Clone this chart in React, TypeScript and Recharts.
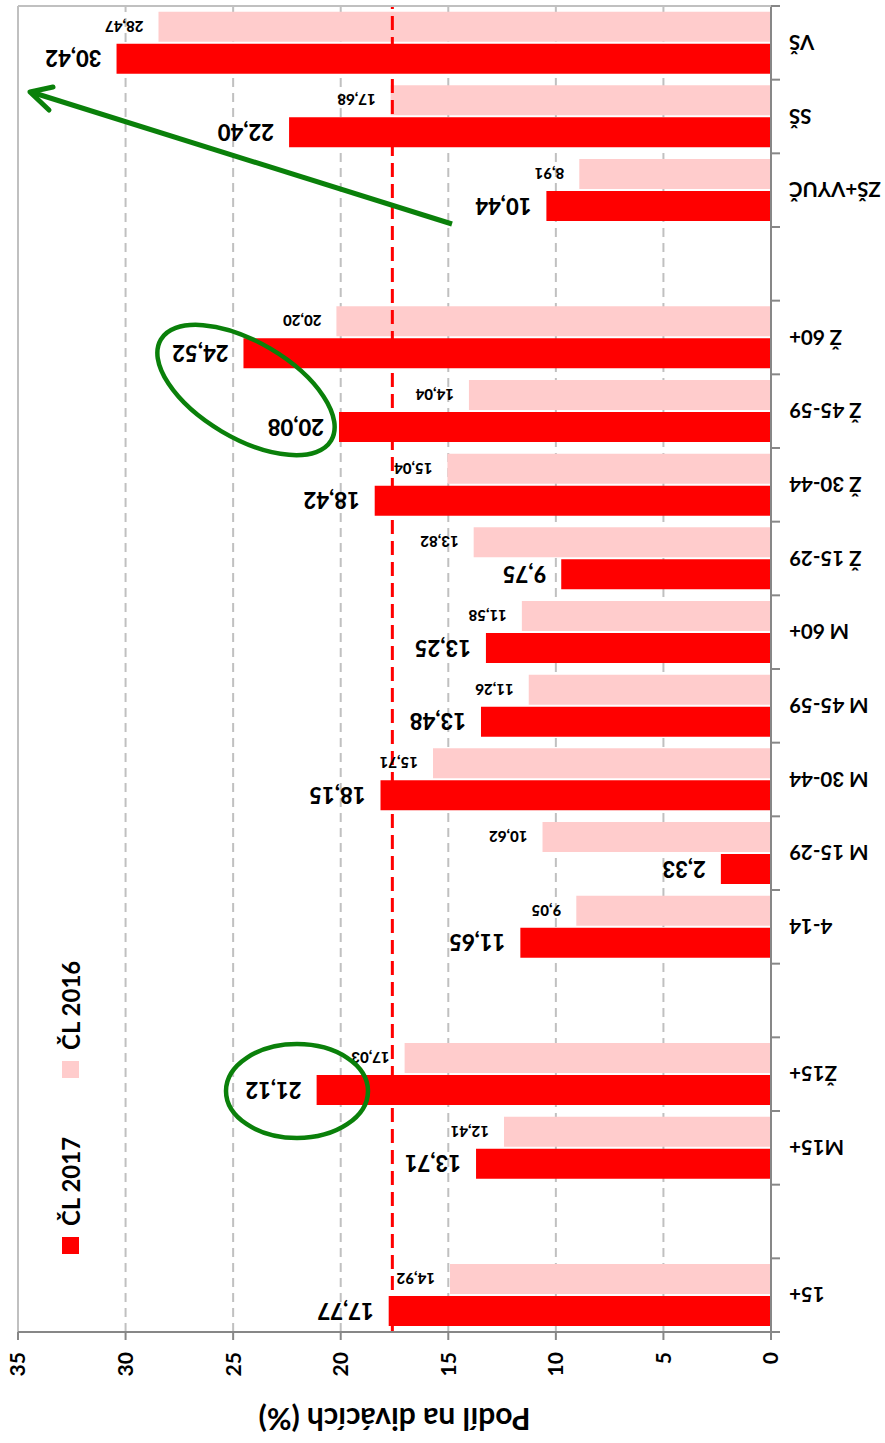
import React from 'react';
import { BarChart, Bar, XAxis, YAxis, CartesianGrid, ReferenceLine, Legend, LabelList, Label } from 'recharts';

// empty names are spacer slots between the groups
const categories = ['15+', '', 'M15+', 'Ž15+', ' ', '4-14', 'M 15-29', 'M 30-44', 'M 45-59', 'M 60+', 'Ž 15-29', 'Ž 30-44', 'Ž 45-59', 'Ž 60+', '  ', 'ZŠ+VYUČ', 'SŠ', 'VŠ'];
const cl2017 = [17.77, null, 13.71, 21.12, null, 11.65, 2.33, 18.15, 13.48, 13.25, 9.75, 18.42, 20.08, 24.52, null, 10.44, 22.4, 30.42];
const cl2016 = [14.92, null, 12.41, 17.03, null, 9.05, 10.62, 15.71, 11.26, 11.58, 13.82, 15.04, 14.04, 20.2, null, 8.91, 17.68, 28.47];
const seriesNames = ['ČL 2017', 'ČL 2016'];
const valueTicks = [0, 5, 10, 15, 20, 25, 30, 35];
const average = 17.6;

const data = categories.map((name, i) => ({ name, cl2017: cl2017[i], cl2016: cl2016[i] }));

// chart is drawn as a column chart and turned 90deg to the left
const W = 1443;
const H = 885;
const FONT = 'Lato, "Open Sans", sans-serif';
const AXIS = '#878787';
const GRID = '#c0c0c0';

const fmt = (v: number) => v.toFixed(2).replace('.', ',');

const CategoryTick = (props: any) => {
  const { x, y, payload, index } = props;
  const half = payload && payload.offset ? payload.offset : 36.8;
  const axisY = y - 18;
  return (
    <g>
      <line x1={x - half} x2={x - half} y1={axisY} y2={axisY + 9} stroke={AXIS} strokeWidth={2} />
      {index === categories.length - 1 && (
        <line x1={x + half} x2={x + half} y1={axisY} y2={axisY + 9} stroke={AXIS} strokeWidth={2} />
      )}
      <text
        x={x}
        y={y}
        transform={`rotate(-90 ${x} ${y})`}
        textAnchor="end"
        dominantBaseline="central"
        fontFamily={FONT}
        fontWeight={700}
        fontSize={20.5}
        fill="#000"
      >
        {payload.value}
      </text>
    </g>
  );
};

const barLabel = (size: number, gap: number) => (props: any) => {
  const { x, y, width, value } = props;
  if (value == null) return null;
  const cx = Number(x) + Number(width) / 2;
  const cy = Number(y) - gap;
  return (
    <text
      x={cx}
      y={cy}
      transform={`rotate(-90 ${cx} ${cy})`}
      textAnchor="start"
      dominantBaseline="central"
      fontFamily={FONT}
      fontWeight={900}
      fontSize={size}
      fill="#000"
    >
      {fmt(Number(value))}
    </text>
  );
};

const AxisTitle = (props: any) => {
  const vb = props.viewBox || { x: 0, y: 18, width: 111, height: 753 };
  const cx = vb.x + 23;
  const cy = vb.y + vb.height / 2;
  return (
    <text
      x={cx}
      y={cy}
      transform={`rotate(-90 ${cx} ${cy})`}
      textAnchor="middle"
      dominantBaseline="central"
      fontFamily={FONT}
      fontWeight={700}
      fontSize={30}
      fill="#000"
    >
      Podíl na divácích (%)
    </text>
  );
};

const LegendContent = (props: any) => {
  const items = [...(props.payload || [])].sort(
    (a: any, b: any) => seriesNames.indexOf(a.value) - seriesNames.indexOf(b.value)
  );
  return (
    <div style={{ display: 'flex', alignItems: 'center', fontFamily: FONT, fontWeight: 700, fontSize: 24, color: '#000' }}>
      {items.map((it: any) => (
        <div key={it.value} style={{ display: 'flex', alignItems: 'center', marginRight: 59 }}>
          <span style={{ display: 'inline-block', width: 17, height: 17, background: it.color, marginRight: 11 }} />
          <span>{it.value}</span>
        </div>
      ))}
    </div>
  );
};

export default function App() {
  return (
    <div style={{ position: 'absolute', left: 0, top: 0, width: 885, height: 1443, background: '#fff', overflow: 'hidden' }}>
      <div
        style={{
          position: 'absolute',
          left: 0,
          top: 0,
          width: W,
          height: H,
          transformOrigin: '0 0',
          transform: `translateY(${W}px) rotate(-90deg)`,
        }}
      >
        <BarChart width={W} height={H} data={data} margin={{ top: 18, right: 5, bottom: 0, left: 0 }} barCategoryGap={6} barGap={2}>
          <CartesianGrid vertical={false} stroke={GRID} strokeDasharray="9 6" strokeWidth={2} />
          <XAxis
            dataKey="name"
            interval={0}
            height={114}
            tickSize={0}
            tickMargin={18}
            tickLine={false}
            tick={<CategoryTick />}
            axisLine={{ stroke: AXIS, strokeWidth: 2 }}
          />
          <YAxis
            domain={[0, 35]}
            ticks={valueTicks}
            width={111}
            tickSize={8}
            tickMargin={12}
            axisLine={{ stroke: AXIS, strokeWidth: 2 }}
            tickLine={{ stroke: AXIS, strokeWidth: 2 }}
            tick={{ fontSize: 21, fontWeight: 700, fontFamily: FONT, fill: '#000' }}
          >
            <Label content={AxisTitle} />
          </YAxis>
          <YAxis yAxisId="border" orientation="right" width={1} domain={[0, 35]} tick={false} tickLine={false} axisLine={{ stroke: GRID, strokeWidth: 2 }} />
          <Legend
            layout="horizontal"
            align="center"
            verticalAlign="middle"
            content={LegendContent}
            wrapperStyle={{ left: 189, top: 56, width: 'auto', height: 'auto' }}
          />
          <Bar dataKey="cl2017" name="ČL 2017" fill="#ff0000" isAnimationActive={false}>
            <LabelList dataKey="cl2017" content={barLabel(22, 15)} />
          </Bar>
          <Bar dataKey="cl2016" name="ČL 2016" fill="#ffcccc" isAnimationActive={false}>
            <LabelList dataKey="cl2016" content={barLabel(15, 15)} />
          </Bar>
          <ReferenceLine y={35} stroke={GRID} strokeWidth={2} />
          <ReferenceLine y={average} stroke="#ff0000" strokeWidth={3} strokeDasharray="14 7" />
        </BarChart>
      </div>
      <svg width={885} height={1443} style={{ position: 'absolute', left: 0, top: 0, pointerEvents: 'none' }}>
        <g stroke="#0a800a" fill="none" strokeWidth={4.5}>
          <ellipse cx={246} cy={390} rx={99} ry={48} transform="rotate(30.6 246 390)" />
          <ellipse cx={297} cy={1091} rx={71} ry={47} />
          <line x1={452} y1={224} x2={31} y2={92} strokeWidth={5} />
          <polyline points="53,87 30,92 49,110" strokeWidth={5} strokeLinecap="round" strokeLinejoin="round" />
        </g>
      </svg>
    </div>
  );
}
